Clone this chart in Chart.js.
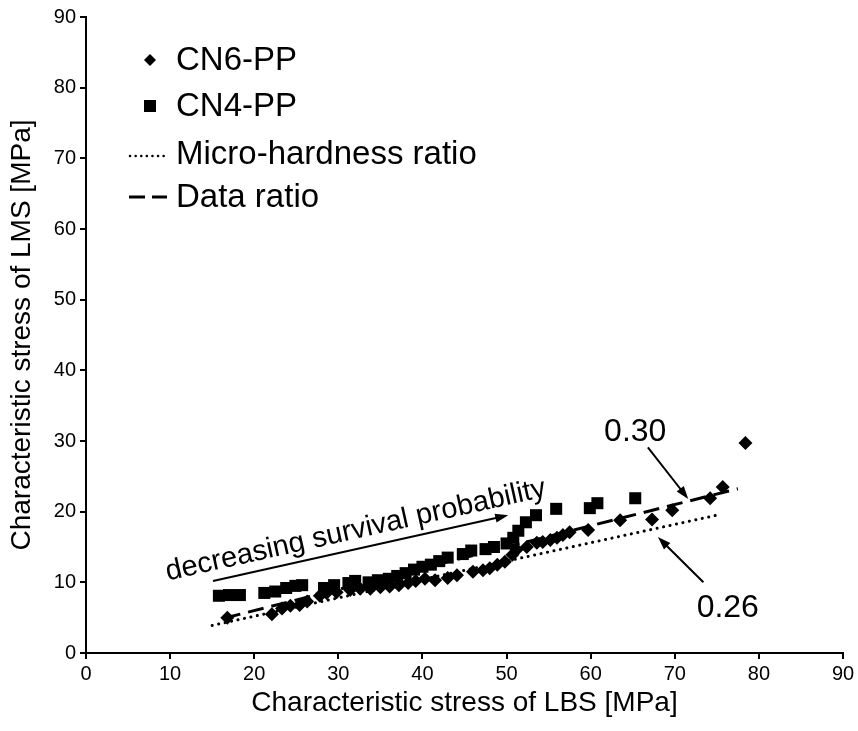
<!DOCTYPE html>
<html><head><meta charset="utf-8">
<script src="https://cdn.jsdelivr.net/npm/chart.js@4/dist/chart.umd.min.js"></script>
<style>html,body{margin:0;padding:0;background:#fff}#wrap{width:858px;height:731px;position:relative}</style>
</head><body><div id="wrap"><canvas id="c" width="858" height="731"></canvas></div>
<script>
const seriesNames = ['CN6-PP', 'CN4-PP', 'Micro-hardness ratio', 'Data ratio'];
const xTitle = 'Characteristic stress of LBS [MPa]';
const yTitle = 'Characteristic stress of LMS [MPa]';
const tickValues = [0, 10, 20, 30, 40, 50, 60, 70, 80, 90];

const cn6X = [16.8, 22.1, 23.3, 24.3, 25.4, 26.3, 27.8, 28.6, 29.8, 31.4, 32.6, 33.8, 35.0, 36.1, 37.2, 38.3, 39.2, 40.3, 41.5, 43.0, 44.1, 46.0, 47.2, 48.0, 48.9, 49.8, 50.7, 51.2, 52.4, 53.6, 54.3, 55.2, 56.0, 56.7, 57.5, 59.7, 63.5, 67.3, 69.7, 74.2, 75.7, 78.4];
const cn6Y = [5.0, 5.5, 6.3, 6.7, 6.8, 7.3, 8.1, 8.5, 8.6, 8.9, 9.1, 9.1, 9.3, 9.4, 9.6, 9.9, 10.2, 10.5, 10.3, 10.6, 11.0, 11.5, 11.7, 12.0, 12.5, 12.9, 13.9, 14.6, 15.0, 15.6, 15.7, 16.0, 16.3, 16.7, 17.1, 17.4, 18.8, 18.9, 20.2, 21.9, 23.5, 29.7];

const cn4X = [15.8, 17.0, 18.3, 21.2, 22.5, 23.8, 24.9, 25.7, 28.3, 29.5, 31.2, 32.0, 33.6, 34.7, 36.0, 37.0, 38.0, 39.0, 40.0, 41.0, 42.0, 43.0, 44.8, 45.8, 47.5, 48.5, 50.0, 50.8, 51.4, 52.3, 53.5, 55.9, 59.9, 60.8, 65.3];
const cn4Y = [8.1, 8.2, 8.2, 8.5, 8.7, 9.2, 9.5, 9.6, 9.2, 9.6, 9.9, 10.2, 10.0, 10.3, 10.5, 10.9, 11.3, 11.8, 12.2, 12.5, 13.0, 13.5, 14.0, 14.5, 14.7, 15.0, 15.5, 16.3, 17.3, 18.5, 19.5, 20.4, 20.5, 21.2, 21.9];

const microX = [15.0, 75.0];
const microY = [3.9, 19.5];
const ratioX = [16.5, 77.5];
const ratioY = [4.95, 23.25];

const annoArrowText = 'decreasing survival probability';
const annoHigh = '0.30';
const annoLow = '0.26';

const pts = (xs, ys) => xs.map((x, i) => ({x: x, y: ys[i]}));
const FONT = 'Liberation Sans, Arial, sans-serif';

function arrow(ctx, x1, y1, x2, y2, head, half) {
  const a = Math.atan2(y2 - y1, x2 - x1);
  ctx.beginPath();
  ctx.moveTo(x1, y1);
  ctx.lineTo(x2 - Math.cos(a) * head * 0.8, y2 - Math.sin(a) * head * 0.8);
  ctx.stroke();
  ctx.beginPath();
  ctx.moveTo(x2, y2);
  ctx.lineTo(x2 - head * Math.cos(a) + half * Math.sin(a), y2 - head * Math.sin(a) - half * Math.cos(a));
  ctx.lineTo(x2 - head * Math.cos(a) - half * Math.sin(a), y2 - head * Math.sin(a) + half * Math.cos(a));
  ctx.closePath();
  ctx.fill();
}

const overlay = {
  id: 'overlay',
  afterDatasetsDraw(chart) {
    const ctx = chart.ctx, xs = chart.scales.x, ys = chart.scales.y;
    const px = v => xs.getPixelForValue(v), py = v => ys.getPixelForValue(v);
    ctx.save();
    ctx.fillStyle = '#000';
    ctx.strokeStyle = '#000';
    // legend
    ctx.font = '33px ' + FONT;
    ctx.textBaseline = 'middle';
    ctx.textAlign = 'left';
    const lx = 150, tx = 176;
    const rows = [60, 106, 154, 197];
    ctx.beginPath();
    ctx.moveTo(lx, rows[0] - 6); ctx.lineTo(lx + 6, rows[0]); ctx.lineTo(lx, rows[0] + 6); ctx.lineTo(lx - 6, rows[0]); ctx.closePath(); ctx.fill();
    ctx.fillText(seriesNames[0], tx, rows[0] + 1);
    ctx.fillRect(lx - 6, rows[1] - 6, 12, 12);
    ctx.fillText(seriesNames[1], tx, rows[1] + 1);
    ctx.lineWidth = 2.5;
    ctx.lineCap = 'round';
    ctx.setLineDash([0.1, 5.5]);
    ctx.beginPath(); ctx.moveTo(130, rows[2] + 2); ctx.lineTo(168, rows[2] + 2); ctx.stroke();
    ctx.fillText(seriesNames[2], tx, rows[2] + 1);
    ctx.lineCap = 'butt';
    ctx.setLineDash([]);
    ctx.lineWidth = 3;
    ctx.beginPath(); ctx.moveTo(129, rows[3]); ctx.lineTo(145, rows[3]); ctx.moveTo(152, rows[3]); ctx.lineTo(167, rows[3]); ctx.stroke();
    ctx.fillText(seriesNames[3], tx, rows[3] + 1);

    // decreasing survival probability arrow
    ctx.lineWidth = 2;
    const ax1 = px(15.1), ay1 = py(10.2), ax2 = px(50.2), ay2 = py(19.5);
    arrow(ctx, ax1, ay1, ax2, ay2, 13, 4.5);
    const ang = Math.atan2(ay2 - ay1, ax2 - ax1);
    const mx = (ax1 + ax2) / 2 - 1, my = (ay1 + ay2) / 2;
    ctx.save();
    ctx.translate(mx + Math.sin(ang) * 10, my - Math.cos(ang) * 10);
    ctx.rotate(ang);
    ctx.textAlign = 'center';
    ctx.textBaseline = 'alphabetic';
    ctx.font = '29px ' + FONT;
    ctx.fillText(annoArrowText, 0, 0);
    ctx.restore();

    // ratio labels
    ctx.font = '32px ' + FONT;
    ctx.textAlign = 'center';
    ctx.textBaseline = 'middle';
    ctx.fillText(annoHigh, px(65.3), py(31.3));
    arrow(ctx, px(66.8), py(29.1), px(71.6), py(21.8), 13, 4.5);
    ctx.fillText(annoLow, px(76.3), py(6.4));
    arrow(ctx, px(73.4), py(10.0), px(68.0), py(16.4), 13, 4.5);
    ctx.restore();
  }
};

new Chart(document.getElementById('c'), {
  type: 'scatter',
  data: {
    datasets: [
      {label: seriesNames[3], type: 'line', data: pts(ratioX, ratioY), borderColor: '#000', borderWidth: 3, borderDash: [16, 8], pointRadius: 0, fill: false, showLine: true},
      {label: seriesNames[2], type: 'line', data: pts(microX, microY), borderColor: '#000', borderWidth: 3, borderDash: [0.1, 6.5], borderCapStyle: 'round', pointRadius: 0, fill: false, showLine: true},
      {label: seriesNames[0], data: pts(cn6X, cn6Y), pointStyle: 'rectRot', pointRadius: 7, backgroundColor: '#000', borderColor: '#000', borderWidth: 0},
      {label: seriesNames[1], data: pts(cn4X, cn4Y), pointStyle: 'rect', pointRadius: 8.5, backgroundColor: '#000', borderColor: '#000', borderWidth: 0}
    ]
  },
  options: {
    responsive: false,
    animation: false,
    events: [],
    layout: {padding: {left: 0, right: 15, top: 17, bottom: 0}},
    plugins: {legend: {display: false}, tooltip: {enabled: false}},
    scales: {
      x: {
        type: 'linear', min: 0, max: 90,
        afterBuildTicks: s => { s.ticks = tickValues.map(v => ({value: v})); },
        afterFit: s => { s.height = 78; },
        grid: {display: true, drawOnChartArea: false, drawTicks: true, tickLength: 6, color: '#000', lineWidth: 2},
        border: {display: true, color: '#000', width: 2},
        ticks: {color: '#000', font: {family: FONT, size: 20}, padding: 3, maxRotation: 0},
        title: {display: true, text: xTitle, color: '#000', font: {family: FONT, size: 28}, padding: {top: 0, bottom: 11}}
      },
      y: {
        type: 'linear', min: 0, max: 90,
        afterBuildTicks: s => { s.ticks = tickValues.map(v => ({value: v})); },
        afterFit: s => { s.width = 86; },
        grid: {display: true, drawOnChartArea: false, drawTicks: true, tickLength: 6, color: '#000', lineWidth: 2},
        border: {display: true, color: '#000', width: 2},
        ticks: {color: '#000', font: {family: FONT, size: 20}, padding: 4},
        title: {display: true, text: yTitle, color: '#000', font: {family: FONT, size: 28}, padding: {top: 5, bottom: 0}}
      }
    }
  },
  plugins: [overlay]
});
</script></body></html>
